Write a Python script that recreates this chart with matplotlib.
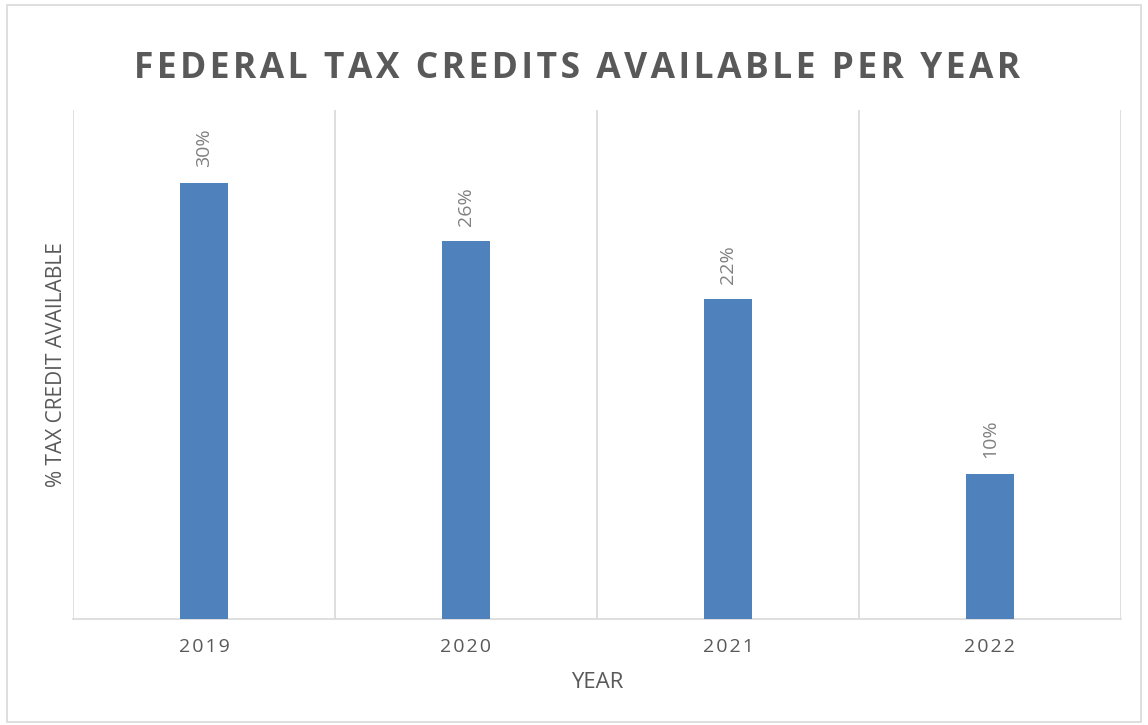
import matplotlib
matplotlib.use("Agg")
import matplotlib.pyplot as plt
from matplotlib.patches import Rectangle

years = ["2019", "2020", "2021", "2022"]
credits = [0.30, 0.26, 0.22, 0.10]
labels = ["30%", "26%", "22%", "10%"]
title = "FEDERAL TAX CREDITS AVAILABLE PER YEAR"

plt.rcParams['font.family'] = ['Open Sans', 'DejaVu Sans']

HS = "\u200a"

fig = plt.figure(figsize=(11.48, 7.25), dpi=100)
fig.patches.append(Rectangle((7/1148, 1 - 722/725), 1134/1148, 717/725, transform=fig.transFigure,
                             fill=False, edgecolor='#d9d9d9', linewidth=1.2))
ax = fig.add_axes([73/1148, 1 - 619/725, 1048/1148, 509/725])

x = list(range(len(years)))
ax.bar(x, credits, width=0.183, color='#4F81BD', zorder=3)
ax.set_xlim(-0.5, len(years) - 0.5)
ax.set_ylim(0, 0.35)

for xi, v, lab in zip(x, credits, labels):
    ax.annotate(lab, (xi, v), xytext=(0, 11), textcoords='offset points',
                rotation=90, ha='center', va='bottom', color='#808080', fontsize=14)

for b in [i - 0.5 for i in range(len(years) + 1)]:
    ax.axvline(b, color='#d9d9d9', linewidth=1.2, zorder=1)

for s in ['left', 'right', 'top']:
    ax.spines[s].set_visible(False)
ax.spines['bottom'].set_color('#d9d9d9')
ax.spines['bottom'].set_linewidth(1.2)
ax.set_yticks([])
ax.set_xticks(x)
ax.set_xticklabels([HS.join(y) for y in years], fontsize=14, color='#595959')
ax.tick_params(axis='x', length=0, pad=14)

ax.set_xlabel("YEAR", fontsize=16, color='#595959')
ax.xaxis.set_label_coords(0.5, -(683 - 619) / 509)
ax.xaxis.label.set_va('center')
ax.set_ylabel("% TAX CREDIT AVAILABLE", fontsize=15, color='#595959')
ax.yaxis.set_label_coords(-(73 - 57) / 1048, 0.5)
ax.yaxis.label.set_va('center')

fig.text(577/1148, 1 - 69/725, HS.join(title), ha='center', va='center',
         fontsize=25.5, fontweight='bold', color='#595959')

fig.savefig("out.png", dpi=100)
